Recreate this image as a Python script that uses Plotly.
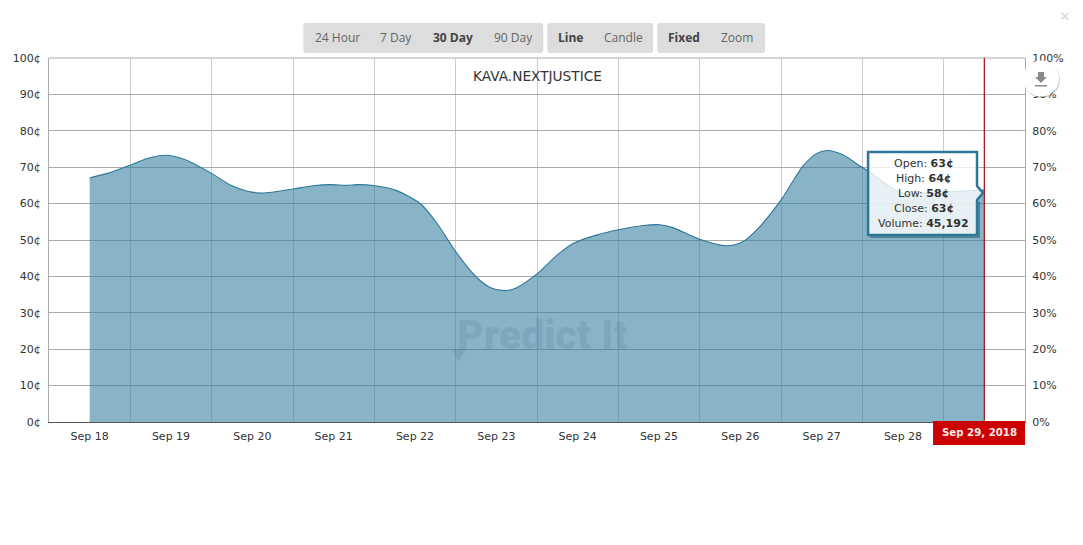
import plotly.graph_objects as go

WIDTH, HEIGHT = 1083, 545
LEFT, RIGHT, TOP, BOTTOM = 48.5, 1025, 58, 422

# curve, x is days since Sep 18
days = [0, 0.22, 0.50, 0.71, 0.93, 1.16, 1.50, 1.73, 1.94, 2.14, 2.50, 2.75, 2.96, 3.16, 3.29, 3.51,
        3.76, 4.07, 4.27, 4.50, 4.76, 4.93, 5.11, 5.25, 5.50, 5.75, 5.95, 6.24, 6.50, 6.81, 7.01, 7.17,
        7.50, 7.83, 8.03, 8.24, 8.51, 8.77, 8.94, 9.08, 9.26, 9.50, 9.59, 9.84, 10.05, 10.29, 10.58, 11.0]
price = [67.1, 68.3, 70.6, 72.4, 73.3, 72.2, 68.3, 65.1, 63.4, 62.9, 64.0, 64.9, 65.2, 65.0, 65.2, 64.9,
         63.7, 59.9, 54.6, 46.8, 39.7, 36.9, 36.1, 36.9, 40.7, 45.9, 49.1, 51.4, 52.8, 54.0, 54.2, 53.4,
         50.2, 48.4, 49.5, 53.7, 61.3, 70.3, 73.8, 74.6, 73.4, 69.9, 68.7, 64.6, 62.5, 63.0, 63.3, 63.7]
last_day = 11

day_ticks = list(range(11))
day_labels = ['Sep 18', 'Sep 19', 'Sep 20', 'Sep 21', 'Sep 22', 'Sep 23', 'Sep 24', 'Sep 25',
              'Sep 26', 'Sep 27', 'Sep 28']
day_edges = [d + 0.5 for d in range(-1, 12)]
last_label = 'Sep 29, 2018'
title = 'KAVA.NEXTJUSTICE'

tip_names = ['Open', 'High', 'Low', 'Close', 'Volume']
tip_values = ['63¢', '64¢', '58¢', '63¢', '45,192']

buttons = [('24 Hour', 336.7, False), ('7 Day', 396, False), ('30 Day', 453, True), ('90 Day', 513, False),
           ('Line', 570, True), ('Candle', 623, False), ('Fixed', 684.3, True), ('Zoom', 737, False)]
button_groups = [(303, 543), (547, 653), (657, 765)]


def px(x):
    return (x - LEFT) / (RIGHT - LEFT)


def py(y):
    return (BOTTOM - y) / (BOTTOM - TOP)


def path(points, close=True):
    # pixel points to a paper path
    s = 'M' + ' L'.join(f'{px(x):.5f},{py(y):.5f}' for x, y in points)
    return s + (' Z' if close else '')


def rounded(x0, y0, x1, y1, r=3):
    X0, X1, Y0, Y1 = px(x0), px(x1), py(y0), py(y1)
    rx, ry = r / (RIGHT - LEFT), r / (BOTTOM - TOP)
    return (f'M{X0 + rx},{Y0} L{X1 - rx},{Y0} Q{X1},{Y0} {X1},{Y0 - ry} L{X1},{Y1 + ry} Q{X1},{Y1} {X1 - rx},{Y1} '
            f'L{X0 + rx},{Y1} Q{X0},{Y1} {X0},{Y1 + ry} L{X0},{Y0 - ry} Q{X0},{Y0} {X0 + rx},{Y0} Z')


def shape(d, fill='rgba(0,0,0,0)', line='rgba(0,0,0,0)', width=0):
    return dict(type='path', xref='paper', yref='paper', path=d, fillcolor=fill,
                line=dict(color=line, width=width), layer='above')


def circle(cx, cy, r, fill):
    return dict(type='circle', xref='paper', yref='paper', x0=px(cx - r), x1=px(cx + r),
                y0=py(cy + r), y1=py(cy - r), fillcolor=fill, line=dict(width=0), layer='above')


def label(text, x, y, size=11, color='#333', family='DejaVu Sans', weight=None):
    font = dict(family=family, size=size, color=color)
    if weight:
        font['weight'] = weight
    return dict(text=text, x=px(x), y=py(y), xref='paper', yref='paper', showarrow=False,
                xanchor='center', yanchor='middle', font=font)


fig = go.Figure()

fig.add_trace(go.Scatter(
    x=days, y=price, mode='lines', fill='tozeroy',
    line=dict(color='#2f7797', width=1.1, shape='spline', smoothing=0.8),
    fillcolor='rgba(47,123,158,0.57)', hoverinfo='skip', showlegend=False
))
# only here so the right hand axis gets drawn
fig.add_trace(go.Scatter(
    x=days, y=price, yaxis='y2', mode='lines', line=dict(width=0),
    hoverinfo='skip', showlegend=False
))

shapes = []
annotations = []

# top border of the plot
shapes.append(dict(type='line', xref='paper', yref='paper', x0=0, x1=1, y0=1, y1=1,
                   line=dict(color='#aaaaaa', width=1), layer='below'))

# red marker at the last day
shapes.append(dict(type='line', xref='x', yref='paper', x0=last_day, x1=last_day, y0=0, y1=1,
                   line=dict(color='#a80f14', width=1.2), layer='above'))
shapes.append(shape(path([(933, 421), (1025, 421), (1025, 445), (933, 445)]), fill='#cc0000'))
annotations.append(label(f'<b>{last_label}</b>', 979.5, 433, size=10.2, color='#fbeaea'))

# range buttons
for x0, x1 in button_groups:
    shapes.append(shape(rounded(x0, 23, x1, 53), fill='#dddddd'))
for text, x, bold in buttons:
    annotations.append(label(f'<b>{text}</b>' if bold else text, x, 38, size=12,
                             color='#444' if bold else '#666', family='Open Sans'))

annotations.append(label(title, 537, 75.5, size=13.7, color='#333'))

# watermark
annotations.append(label('Predict It', 542, 335, size=41, color='rgba(50,105,135,0.17)',
                         family='Roboto', weight=900))
shapes.append(shape(path([(456, 349), (452, 349), (458, 362), (466, 349), (463, 349)]),
                    fill='rgba(50,105,135,0.17)'))

# tooltip
tip_outline = [(868, 152), (977, 152), (977, 186), (983, 193), (977, 200), (977, 235), (868, 235)]
shapes.append(shape(path([(870, 237), (979, 237), (979, 202)], close=False), line='rgba(20,70,95,0.45)', width=2))
shapes.append(shape(path(tip_outline), fill='rgba(255,255,255,0.8)', line='#2f7797', width=2.5))
for i, (name, value) in enumerate(zip(tip_names, tip_values)):
    annotations.append(label(f'{name}: <b>{value}</b>', 923.5, 163 + i * 15, size=11, color='#333'))

# download button and close cross
shapes.append(circle(1042, 80, 18, 'rgba(0,0,0,0.18)'))
shapes.append(circle(1041, 78.5, 18, '#ffffff'))
shapes.append(shape(path([(1038, 72), (1044, 72), (1044, 77), (1047, 77), (1041, 83), (1035, 77), (1038, 77)]),
                    fill='#8a8a8a'))
shapes.append(shape(path([(1035, 85), (1047, 85), (1047, 86.5), (1035, 86.5)]), fill='#8a8a8a'))
annotations.append(label('×', 1065.5, 16, size=17, color='#d0d0d0', family='Open Sans'))

fig.update_layout(
    width=WIDTH, height=HEIGHT,
    margin=dict(l=LEFT, r=WIDTH - RIGHT, t=TOP, b=HEIGHT - BOTTOM),
    paper_bgcolor='white', plot_bgcolor='white',
    font=dict(family='DejaVu Sans', size=11, color='#333'),
    xaxis=dict(
        range=[-0.5, 11.5], tickmode='array', tickvals=day_ticks, ticktext=day_labels, automargin=False,
        showgrid=False, zeroline=False, showline=True, linecolor='#555555', linewidth=1,
        ticks='', ticklabelstandoff=4,
        minor=dict(tickmode='array', tickvals=day_edges, showgrid=True, gridcolor='#cccccc', gridwidth=1, ticks='')
    ),
    yaxis=dict(
        range=[0, 100], tickmode='linear', tick0=0, dtick=10, ticksuffix='¢', automargin=False,
        gridcolor='#aaaaaa', gridwidth=1, zeroline=False,
        showline=True, linecolor='#aaaaaa', linewidth=1, ticks='', ticklabelstandoff=5
    ),
    yaxis2=dict(
        range=[0, 100], tickmode='linear', tick0=0, dtick=10, ticksuffix='%', automargin=False,
        overlaying='y', side='right', showgrid=False, zeroline=False,
        showline=True, linecolor='#aaaaaa', linewidth=1, ticks='', ticklabelstandoff=4
    ),
    shapes=shapes,
    annotations=annotations,
)

fig.write_html('out.html', config=dict(displayModeBar=False),
               post_script="document.body.style.margin='0';document.body.style.overflow='hidden';")
